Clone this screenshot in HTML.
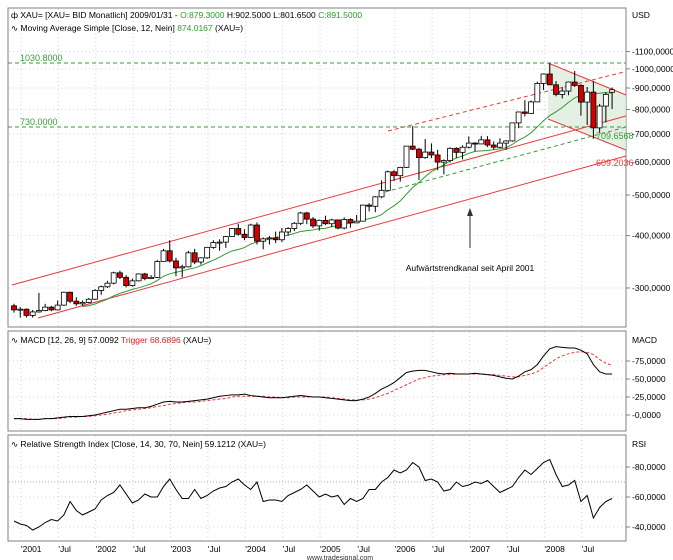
<!DOCTYPE html>
<html><head><meta charset="utf-8"><style>
html,body{margin:0;padding:0;background:#fff;}
svg{display:block;font-family:"Liberation Sans",sans-serif;}
</style></head><body>
<svg id="c" width="673" height="560" viewBox="0 0 673 560" xmlns="http://www.w3.org/2000/svg">
<g id="grid"></g>
<rect x="8" y="8" width="618" height="319" fill="none" stroke="#808080"/>
<rect x="8" y="331" width="618" height="100" fill="none" stroke="#808080"/>
<rect x="8" y="435" width="618" height="106" fill="none" stroke="#808080"/>
<polygon points="548,63 626,95 626,150 548,119" fill="#dcecdc" opacity="0.8"/>
<line x1="8" y1="63" x2="626" y2="63" stroke="#3a9a3a" stroke-dasharray="4,3"/>
<line x1="8" y1="127" x2="626" y2="127" stroke="#3a9a3a" stroke-dasharray="4,3"/>
<text x="20" y="61" font-size="9" fill="#3a9a3a">1030.8000</text>
<text x="20" y="125" font-size="9" fill="#3a9a3a">730.0000</text>
<line x1="12" y1="285" x2="626" y2="116" stroke="#e83a3a"/>
<line x1="38" y1="318" x2="626" y2="156" stroke="#e83a3a"/>
<line x1="388" y1="131" x2="624" y2="72" stroke="#e83a3a" stroke-dasharray="4,3"/>
<line x1="385" y1="192" x2="626" y2="127" stroke="#3a9a3a" stroke-dasharray="4,3"/>
<line x1="548" y1="63" x2="626" y2="95" stroke="#e83a3a"/>
<line x1="548" y1="119" x2="626" y2="150" stroke="#e83a3a"/>
<g id="ma"></g>
<g id="candles"></g>
<text x="596" y="139" font-size="9" fill="#3a9a3a">709.6568</text>
<text x="596" y="166" font-size="9" fill="#e83a3a">609.2036</text>
<line x1="470" y1="248" x2="470" y2="212" stroke="#333"/>
<polygon points="470,208 467,216 473,216" fill="#333"/>
<text x="470" y="271" font-size="8.5" text-anchor="middle" fill="#000">Aufwärtstrendkanal seit April 2001</text>
<text x="11" y="18" font-size="8.5" fill="#000">ф XAU= [XAU= BID Monatlich] 2009/01/31 - <tspan fill="#2aa02a">O:879.3000</tspan> H:902.5000 L:801.6500 <tspan fill="#2aa02a">C:891.5000</tspan></text>
<text x="11" y="31" font-size="8.5" fill="#000">∿ Moving Average Simple [Close, 12, Nein] <tspan fill="#2aa02a">874.0167</tspan> (XAU=)</text>
<text x="11" y="343" font-size="8.5" fill="#000">∿ MACD [12, 26, 9] 57.0092 <tspan fill="#e02020">Trigger 68.6896</tspan> (XAU=)</text>
<text x="11" y="447" font-size="8.5" fill="#000">∿ Relative Strength Index [Close, 14, 30, 70, Nein] 59.1212 (XAU=)</text>
<text x="632" y="18" font-size="8.5">USD</text>
<text x="632" y="343" font-size="8.5">MACD</text>
<text x="632" y="447" font-size="8.5">RSI</text>
<g id="macdg"></g>
<g id="rsig"></g>
<g id="axes"></g>
<text x="340" y="560" font-size="7" text-anchor="middle" fill="#333">www.tradesignal.com</text>
</svg>
<script>
const opens=[272,266,267,258,263,265,270,266,273,293,279,275,277,282,296,302,308,326,318,304,312,324,316,318,347,368,348,335,337,364,346,354,375,385,386,398,416,403,396,424,388,393,395,391,408,416,428,453,438,422,435,427,436,417,437,429,433,473,470,495,513,568,556,582,654,643,614,633,623,599,604,646,632,650,665,662,677,658,650,665,673,743,789,783,834,923,972,916,869,885,930,913,833,880,723,815,879.3];
const highs=[275,270,268,266,292,275,272,280,294,294,285,280,284,298,304,312,328,330,322,316,325,326,322,350,372,390,354,341,368,372,355,376,390,392,399,417,427,414,427,430,396,399,409,417,419,431,456,456,443,437,446,439,437,442,440,448,474,478,497,542,572,573,584,654,730,648,680,664,641,608,650,650,657,690,668,692,691,671,683,676,744,790,842,840,932,975,1030,935,905,932,988,919,905,935,825,880,902.5];
const lows=[262,255,255,255,262,264,264,265,272,276,272,272,276,281,289,300,306,315,301,302,311,313,315,317,347,345,320,318,336,342,341,352,372,368,374,398,400,390,395,381,371,381,384,386,400,410,424,426,417,411,424,419,414,414,418,428,433,457,455,491,513,540,538,580,640,543,610,612,573,560,598,612,608,646,636,661,651,642,647,641,670,722,770,781,832,890,920,860,850,865,905,773,735,681,705,745,801.65];
const closes=[266,267,258,263,265,270,266,273,293,279,275,277,282,296,302,308,326,318,304,312,324,316,318,347,368,348,335,337,364,346,354,375,385,386,398,416,403,396,424,388,393,395,391,408,416,428,453,438,422,435,427,436,417,437,429,433,473,470,495,513,568,556,582,654,643,614,633,623,599,604,646,632,650,665,662,677,658,650,665,673,743,789,783,834,923,972,916,869,885,930,913,833,880,723,815,869,891.5];
const macd=[-5,-5,-6,-6,-6,-5,-5,-4,-3,-2,-2,-2,-1,0,2,4,6,8,8,9,10,10,12,15,18,19,18,18,19,20,21,22,24,26,27,28,28,29,27,26,25,24,24,24,25,26,27,26,25,25,24,23,22,21,20,20,22,25,30,36,40,45,52,59,61,62,62,60,58,57,58,57,57,57,58,57,56,55,53,51,50,54,60,63,70,82,92,95,94,93,93,90,85,70,60,57,57];
const trigger=[-5,-5,-5,-6,-6,-5,-5,-5,-4,-3,-3,-2,-2,-1,0,1,3,4,6,7,8,9,10,12,13,15,16,17,18,18,19,20,21,22,23,25,26,26,26,26,26,25,25,24,24,25,25,25,25,25,25,24,23,22,21,21,21,22,24,27,30,34,38,42,46,50,52,54,55,56,56,57,57,57,57,57,56,56,55,54,53,53,55,57,60,66,72,78,82,85,87,88,87,84,77,72,69];
const rsi=[44,42,41,38,40,43,45,44,48,57,51,48,50,52,58,61,63,68,62,56,58,62,60,60,67,72,65,59,59,65,59,61,64,66,67,70,72,68,65,70,57,58,58,57,61,63,65,68,64,60,62,60,61,55,59,57,59,65,65,70,73,78,76,78,83,80,71,72,70,64,65,70,67,68,70,69,71,67,63,65,67,73,78,75,79,83,85,75,67,68,71,57,61,46,53,57,59];
const priceTicks=[300,400,500,600,700,800,900,1000,1100];
const priceTickLabels=["300,0000","400,0000","500,0000","600,0000","700,0000","800,0000","900,0000","1000,0000","1100,0000"];
const macdTicks=[0,25,50,75];
const macdTickLabels=["0,0000","25,0000","50,0000","75,0000"];
const rsiTicks=[40,60,80];
const rsiTickLabels=["40,0000","60,0000","80,0000"];
const monthTicks=[0,6,12,18,24,30,36,42,48,54,60,66,72,78,84,90];
const monthLabels=["2001","Jul","2002","Jul","2003","Jul","2004","Jul","2005","Jul","2006","Jul","2007","Jul","2008","Jul"];

const NS="http://www.w3.org/2000/svg";
const xOf=i=>14+6.23*i;
const yP=v=>195-182*Math.log(v/500);
const yM=v=>415-0.72*v;
const yR=v=>527-1.5*(v-40);
function mk(tag,attrs,parent){const e=document.createElementNS(NS,tag);for(const k in attrs)e.setAttribute(k,attrs[k]);parent.appendChild(e);return e;}
const grid=document.getElementById('grid'),axes=document.getElementById('axes');
monthTicks.forEach((m,k)=>{
  const x=xOf(m)+7;
  for(const [a,b] of [[9,326],[332,430],[436,540]]){
    const l=mk('line',{x1:x,y1:a,x2:x,y2:b,stroke:'#d0d0d0','stroke-dasharray':'1,3'},grid);
    
    
  }
  const t=mk('text',{x:x,y:552,'font-size':'8.5'},axes);
  t.textContent="'"+monthLabels[k];
  
  
});
function hAxis(ticks,labels,yf){
  ticks.forEach((v,k)=>{
    const y=yf(v);
    const l=mk('line',{x1:9,y1:y,x2:625,y2:y,stroke:'#d0d0d0','stroke-dasharray':'1,3'},grid);
    
    
    const tk=mk('line',{x1:626,y1:y,x2:630,y2:y,stroke:'#808080'},axes);
    
    
    const t=mk('text',{x:632,y:y+3,'font-size':'8.5'},axes);
    t.textContent="-"+labels[k];
    
    
  });
}
hAxis(priceTicks,priceTickLabels,yP);
hAxis(macdTicks,macdTickLabels,yM);
hAxis(rsiTicks,rsiTickLabels,yR);
const l70=mk('line',{x1:9,y1:yR(70),x2:625,y2:yR(70),stroke:'#aaa','stroke-dasharray':'1,2'},grid);



// moving average
const maPts=[];
for(let i=11;i<closes.length;i++){let s=0;for(let j=i-11;j<=i;j++)s+=closes[j];maPts.push(xOf(i)+','+yP(s/12));}
const ma=mk('polyline',{points:maPts.join(' '),fill:'none',stroke:'#2e9a2e','stroke-width':'1'},document.getElementById('ma'));



const cg=document.getElementById('candles');
closes.forEach((c,i)=>{
  const o=opens[i],x=xOf(i),bull=c>=o;
  const w=mk('line',{x1:x,y1:yP(highs[i]),x2:x,y2:yP(lows[i]),stroke:'#000'},cg);
  
  
  const top=yP(Math.max(o,c)),bot=yP(Math.min(o,c));
  const r=mk('rect',{x:x-2.5,y:top,width:5,height:Math.max(1,bot-top),fill:bull?'#fff':'#d40000',stroke:'#000','stroke-width':'0.8'},cg);
  
  
});
const mg=document.getElementById('macdg');
const tl=mk('polyline',{points:trigger.map((v,i)=>xOf(i)+','+yM(v)).join(' '),fill:'none',stroke:'#e83a3a','stroke-dasharray':'3,2'},mg);


const ml=mk('polyline',{points:macd.map((v,i)=>xOf(i)+','+yM(v)).join(' '),fill:'none',stroke:'#000'},mg);


const rl=mk('polyline',{points:rsi.map((v,i)=>xOf(i)+','+yR(v)).join(' '),fill:'none',stroke:'#000'},document.getElementById('rsig'));


</script>
</body></html>
